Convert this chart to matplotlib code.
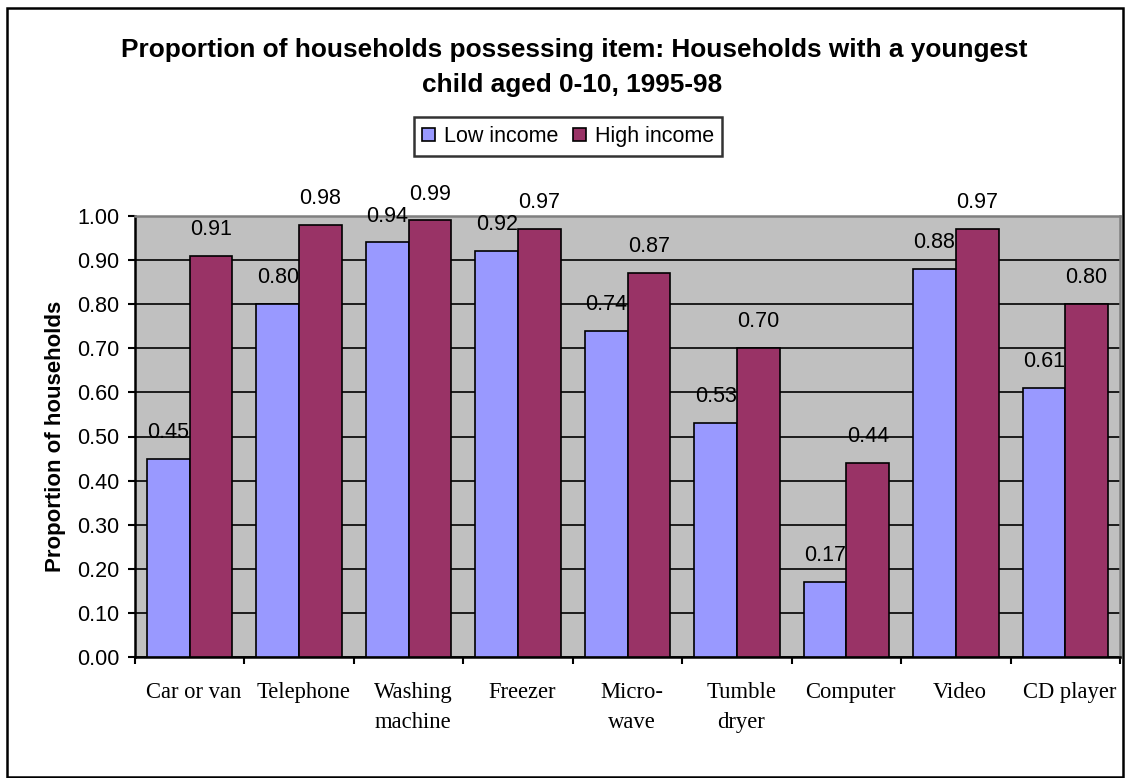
import numpy as np
import matplotlib
matplotlib.use('Agg')
import matplotlib.pyplot as plt
from matplotlib.patches import Rectangle

categories = ["Car or van", "Telephone", "Washing\nmachine", "Freezer", "Micro-\nwave",
              "Tumble\ndryer", "Computer", "Video", "CD player"]
low_income = [0.45, 0.80, 0.94, 0.92, 0.74, 0.53, 0.17, 0.88, 0.61]
high_income = [0.91, 0.98, 0.99, 0.97, 0.87, 0.70, 0.44, 0.97, 0.80]
yticks = np.arange(0, 1.01, 0.1)

W, H = 1125, 778
fig = plt.figure(figsize=(W / 100, H / 100), dpi=100)
ax = fig.add_axes([135 / W, 1 - 657 / H, (1120 - 135) / W, (657 - 216) / H])

# outer chart border
fig.patches.append(Rectangle((7 / W, 1 / H), (1123 - 7) / W, (770 - 1) / H, transform=fig.transFigure,
                             fill=False, edgecolor='black', linewidth=1.8))

x = np.arange(len(categories))
w = 0.39
b1 = ax.bar(x - w / 2, low_income, w, color='#9999FF', edgecolor='black', linewidth=1.2,
            label='Low income', zorder=3)
b2 = ax.bar(x + w / 2, high_income, w, color='#993366', edgecolor='black', linewidth=1.2,
            label='High income', zorder=3)

for bars, vals in ((b1, low_income), (b2, high_income)):
    for r, v in zip(bars, vals):
        ax.annotate("%.2f" % v, (r.get_x() + r.get_width() / 2, v), xytext=(0, 19),
                    textcoords='offset points', ha='center', va='center',
                    fontsize=15.5, family='Liberation Sans', zorder=4, annotation_clip=False)

ax.set_facecolor('#C0C0C0')
ax.set_xlim(-0.5, len(categories) - 0.5)
ax.set_ylim(0, 1.0)
ax.set_yticks(yticks)
ax.set_yticklabels(["%.2f" % t for t in yticks], family='Liberation Sans', fontsize=15.5)
ax.yaxis.grid(True, color='black', linewidth=1.2, zorder=0)
ax.set_axisbelow(True)

ax.set_xticks(np.arange(-0.5, len(categories), 1.0))
ax.set_xticklabels([])
ax.set_xticks(x + 0.04, minor=True)
ax.set_xticklabels(categories, minor=True, family='Liberation Serif', fontsize=16.3, va='top',
                   linespacing=1.55)
ax.tick_params(axis='x', which='minor', length=0, pad=18)
ax.tick_params(axis='x', which='major', length=5, width=1.5, direction='out')
ax.tick_params(axis='y', length=5, width=1.5, direction='out', pad=6)

for s in ['top', 'right']:
    ax.spines[s].set_color('#808080')
    ax.spines[s].set_linewidth(1.8)
for s in ['left', 'bottom']:
    ax.spines[s].set_linewidth(1.8)

ax.set_ylabel("Proportion of households", family='Liberation Sans', fontweight='bold',
              fontsize=16)
ax.yaxis.set_label_coords((66 - 135) / (1120 - 135), 0.5)

fig.text(574 / W, 1 - 57 / H, "Proportion of households possessing item: Households with a youngest",
         ha='center', va='baseline', family='Liberation Sans', fontweight='bold', fontsize=18.9)
fig.text(572 / W, 1 - 92 / H, "child aged 0-10, 1995-98",
         ha='center', va='baseline', family='Liberation Sans', fontweight='bold', fontsize=18.9)

leg = fig.legend(loc='center', bbox_to_anchor=(568 / W, 1 - 136.5 / H), ncol=2,
                 prop={'family': 'Liberation Sans', 'size': 15.5}, frameon=True, fancybox=False,
                 edgecolor='black', handlelength=0.6, handleheight=0.6, handletextpad=0.4,
                 columnspacing=0.7, borderpad=0.4, borderaxespad=0)
leg.get_frame().set_linewidth(1.8)

fig.savefig("out.png", dpi=100)
